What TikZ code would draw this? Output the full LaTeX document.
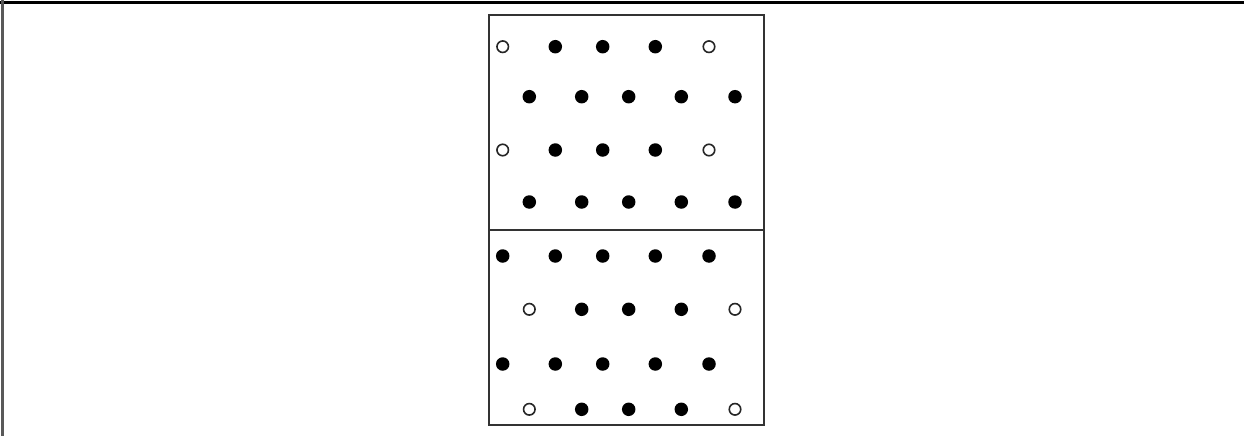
\documentclass[tikz,border=0pt]{standalone}
\begin{document}
\begin{tikzpicture}[x=1pt,y=-1pt,
  fdot/.style={circle,fill=black,inner sep=0pt,minimum size=13.5pt},
  odot/.style={circle,draw=black!85,line width=1.6pt,fill=white,inner sep=0pt,minimum size=11.5pt},
  frame/.style={draw=black!80,line width=1.7pt}]
\useasboundingbox (0,0) rectangle (1244,436);
\fill[white] (0,0) rectangle (1244,436);
\draw[line width=3pt] (0,2.5) -- (1244,2.5);
\draw[black!65,line width=2.2pt] (2.5,0) -- (2.5,436);
\node[frame,rectangle,inner sep=0pt,minimum width=275pt,minimum height=410pt,anchor=north west] (box) at (488,14) {};
\coordinate (divl) at (488,230);
\coordinate (divr) at (763,230);
\draw[frame] (divl) -- (divr);
\foreach \r/\y/\st in {1/46.7/odot,3/150/odot,5/256/fdot,7/364/fdot} {
  \node[\st] (d\r-1) at (502.7,\y) {};
  \foreach \c/\x in {2/555.3,3/602.7,4/655.3} \node[fdot] (d\r-\c) at (\x,\y) {};
  \node[\st] (d\r-5) at (709,\y) {};
}
\foreach \r/\y/\st in {2/96.7/fdot,4/202/fdot,6/309.3/odot,8/409.3/odot} {
  \node[\st] (d\r-1) at (529.3,\y) {};
  \foreach \c/\x in {2/581.7,3/628.7,4/681.3} \node[fdot] (d\r-\c) at (\x,\y) {};
  \node[\st] (d\r-5) at (735,\y) {};
}
\end{tikzpicture}
\end{document}
